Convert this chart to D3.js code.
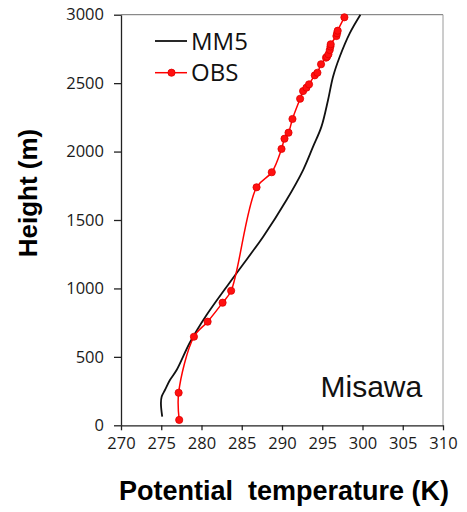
<!DOCTYPE html>
<html>
<head>
<meta charset="utf-8">
<script src="https://cdn.jsdelivr.net/npm/d3@7/dist/d3.min.js"></script>
<style>
  html, body { margin: 0; padding: 0; background: #fff; }
  svg { display: block; }
  .tick text { font-family: "Open Sans", sans-serif; font-size: 16.5px; fill: #1a1a1a; }
</style>
</head>
<body>
<div id="chart"></div>
<script>
// Potential temperature profiles at Misawa: MM5 model vs. observations
const xTicks = [270, 275, 280, 285, 290, 295, 300, 305, 310];
const yTicks = [0, 500, 1000, 1500, 2000, 2500, 3000];

const mm5Temp   = [275.12, 274.96, 275.05, 275.46, 276.08, 276.91, 278.56, 280.63, 284.35, 287.66, 290.56, 292.62, 293.86, 294.90, 295.72, 296.34, 297.17, 298.41, 299.74];
const mm5Height = [63, 161, 209, 258, 331, 404, 605, 806, 1111, 1378, 1646, 1865, 2036, 2182, 2377, 2547, 2693, 2864, 3000];

const obsTemp   = [277.23, 277.16, 279.06, 280.76, 282.62, 283.68, 286.84, 288.73, 289.94, 290.31, 290.81, 291.30, 292.25, 292.62, 293.04, 293.36, 294.07, 294.40, 294.85, 295.47, 295.60, 295.77, 295.93, 296.02, 296.05, 296.76, 296.84, 296.92, 297.75];
const obsHeight = [39, 238, 647, 757, 896, 983, 1739, 1849, 2019, 2094, 2138, 2238, 2386, 2442, 2467, 2491, 2557, 2576, 2638, 2686, 2693, 2711, 2742, 2768, 2784, 2844, 2864, 2883, 2981];

const W = 467, H = 512;
const margin = { top: 14.7, right: 24, bottom: 86.7, left: 121 };
const innerW = W - margin.left - margin.right;
const innerH = H - margin.top - margin.bottom;

const svg = d3.select("#chart").append("svg")
  .attr("width", W).attr("height", H);

const g = svg.append("g").attr("transform", `translate(${margin.left},${margin.top})`);

const x = d3.scaleLinear().domain([270, 310]).range([0, innerW]);
const y = d3.scaleLinear().domain([0, 3000]).range([innerH, 0]);

// frame: top and right edges
g.append("line").attr("x1", 0).attr("x2", innerW).attr("y1", 0).attr("y2", 0)
  .attr("stroke", "#6e6e6e").attr("stroke-width", 1);
g.append("line").attr("x1", innerW).attr("x2", innerW).attr("y1", 0).attr("y2", innerH)
  .attr("stroke", "#9a9a9a").attr("stroke-width", 1);

// axes
const xAxis = g.append("g").attr("transform", `translate(0,${innerH})`)
  .call(d3.axisBottom(x).tickValues(xTicks).tickFormat(d3.format("d"))
    .tickSize(5).tickPadding(7).tickSizeOuter(0));
const yAxis = g.append("g")
  .call(d3.axisLeft(y).tickValues(yTicks).tickFormat(d3.format("d"))
    .tickSize(7).tickPadding(10).tickSizeOuter(0));
[xAxis, yAxis].forEach(a => {
  a.select(".domain").attr("stroke", "#222").attr("stroke-width", 1.3);
  a.selectAll(".tick line").attr("stroke", "#222").attr("stroke-width", 1.3);
});

const curve = d3.curveCatmullRom.alpha(0.5);

const mm5 = mm5Temp.map((t, i) => ({ t, h: mm5Height[i] }));
const obs = obsTemp.map((t, i) => ({ t, h: obsHeight[i] }));

const line = d3.line().x(d => x(d.t)).y(d => y(d.h)).curve(curve);

g.append("path").datum(mm5).attr("d", line)
  .attr("fill", "none").attr("stroke", "#111").attr("stroke-width", 1.8);

g.append("path").datum(obs).attr("d", line)
  .attr("fill", "none").attr("stroke", "#ff0000").attr("stroke-width", 1.5);

g.selectAll("circle.obs").data(obs).enter().append("circle")
  .attr("class", "obs")
  .attr("cx", d => x(d.t)).attr("cy", d => y(d.h)).attr("r", 3.6)
  .attr("fill", "#ff1010").attr("stroke", "#e00000").attr("stroke-width", 0.8);

// legend
const legend = svg.append("g").attr("font-family", "'Open Sans', sans-serif").attr("font-size", 24);
legend.append("line").attr("x1", 155).attr("x2", 187).attr("y1", 41).attr("y2", 41)
  .attr("stroke", "#111").attr("stroke-width", 1.8);
legend.append("text").attr("x", 191).attr("y", 49.5).text("MM5").attr("fill", "#111");
legend.append("line").attr("x1", 155).attr("x2", 187).attr("y1", 72.7).attr("y2", 72.7)
  .attr("stroke", "#ff0000").attr("stroke-width", 1.5);
legend.append("circle").attr("cx", 171.5).attr("cy", 72.7).attr("r", 3.6)
  .attr("fill", "#ff1010").attr("stroke", "#e00000").attr("stroke-width", 0.8);
legend.append("text").attr("x", 191).attr("y", 81).text("OBS").attr("fill", "#111");

// station label
svg.append("text").attr("x", 320.5).attr("y", 396.7)
  .attr("font-family", "'Liberation Sans', Arial, sans-serif").attr("font-size", 30)
  .attr("fill", "#111").text("Misawa");

// axis titles
svg.append("text").attr("x", 284).attr("y", 500)
  .attr("text-anchor", "middle")
  .attr("font-family", "'Liberation Sans', Arial, sans-serif").attr("font-size", 27)
  .attr("font-weight", "bold").attr("fill", "#000")
  .style("white-space", "pre")
  .text("Potential  temperature (K)");

svg.append("text")
  .attr("transform", "translate(37,193) rotate(-90)")
  .attr("text-anchor", "middle")
  .attr("font-family", "'Liberation Sans', Arial, sans-serif").attr("font-size", 26)
  .attr("font-weight", "bold").attr("fill", "#000")
  .text("Height (m)");
</script>
</body>
</html>
